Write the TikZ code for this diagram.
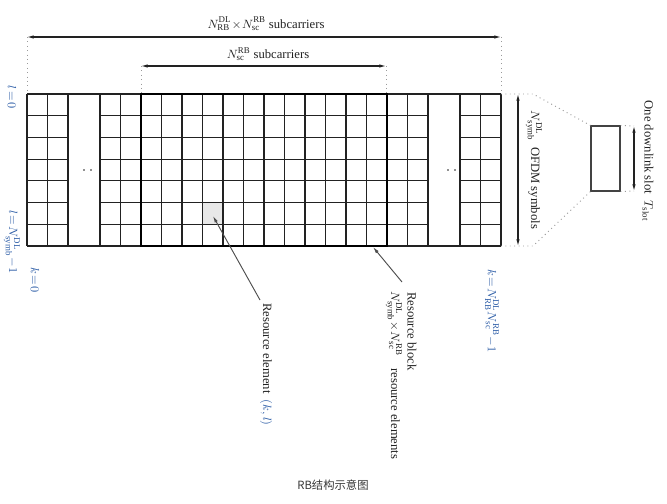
\documentclass[tikz,border=0pt]{standalone}
\usepackage{fontspec}
\setmainfont{Liberation Serif}
\setmathrm{Liberation Serif}
\newfontfamily\cjk{Noto Sans CJK SC}
\usetikzlibrary{arrows.meta}
\definecolor{ink}{HTML}{222222}
\definecolor{mblue}{HTML}{2F5FA8}
\definecolor{dotgray}{HTML}{9A9A9A}
\begin{document}
\begin{tikzpicture}[x=0.75pt,y=-0.75pt,
  gridline/.style={draw=ink,line width=0.8pt},
  rbbox/.style={draw=black,line width=2.2pt},
  guide/.style={draw=dotgray,line width=0.7pt,dash pattern=on 0.7pt off 2.6pt},
  dimarrow/.style={draw=ink,line width=0.8pt,{Latex[length=5pt,width=2.6pt]}-{Latex[length=5pt,width=2.6pt]}},
  pointer/.style={draw=ink!80,line width=0.7pt,-{Latex[length=5pt,width=2.6pt]}},
  lbl/.style={font=\fontsize{9.5}{11}\selectfont,text=ink,inner sep=0pt},
  rlbl/.style={lbl,rotate=-90},
]
\useasboundingbox (0,0) rectangle (667,503);
\fill[white] (0,0) rectangle (667,503);

% highlighted resource element
\fill[gray!18] (202.5,202.57) rectangle (223,224.29);

% grid horizontal lines
\foreach \i in {1,...,6}{
  \pgfmathsetmacro{\yy}{94+\i*152/7}
  \draw[gridline] (27,\yy) -- (68,\yy);
  \draw[gridline] (100,\yy) -- (428,\yy);
  \draw[gridline] (460,\yy) -- (501,\yy);
}
\draw[gridline] (27,94) -- (501,94);
\draw[gridline] (27,246) -- (501,246);
% grid vertical lines
\foreach \xx in {27,47.5,68,100,120.5,387,407.5,428,460,480.5,501}{
  \draw[gridline] (\xx,94) -- (\xx,246);
}
\foreach \k in {0,...,12}{
  \draw[gridline] ({141+\k*20.5},94) -- ({141+\k*20.5},246);
}
% resource block
\draw[rbbox] (141,94) rectangle (387,246);

% gap dots
\foreach \p in {(84,170),(91,170),(448,170),(455,170)}{
  \fill[ink] \p circle (0.7pt);
}

% top dimension arrows
\coordinate (oL) at (27,37);
\coordinate (oR) at (501,37);
\coordinate (iL) at (141,66);
\coordinate (iR) at (386,66);
\draw[guide] (oL) -- (27,94);
\draw[guide] (oR) -- (501,94);
\draw[guide] (iL) -- (141,94);
\draw[guide] (iR) -- (386,94);
\draw[dimarrow] (oL) -- (oR);
\draw[dimarrow] (iL) -- (iR);
\node[lbl] (outerlbl) at (266,24) {$N_{\mathrm{RB}}^{\mathrm{DL}}\!\times\! N_{\mathrm{sc}}^{\mathrm{RB}}$\ subcarriers};
\node[lbl] (innerlbl) at (268,54) {$N_{\mathrm{sc}}^{\mathrm{RB}}$ subcarriers};

% right: OFDM symbols arrow
\coordinate (sT) at (518,94);
\coordinate (sB) at (518,246);
\draw[dimarrow] (sT) -- (sB);
\node[rlbl] (ofdm) at (534,170) {$N_{\mathrm{symb}}^{\mathrm{DL}}$\ \ OFDM symbols};

% zoom-out dotted lines to slot
\node[draw=ink!85,line width=0.8pt,minimum width=29*0.75pt,minimum height=65*0.75pt,inner sep=0pt] (slot) at (605.5,158.5) {};
\draw[guide] (501,94) -- (533,94) -- (slot.north west);
\draw[guide] (501,246) -- (533,246) -- (slot.south west);
\coordinate (tT) at (634,126);
\coordinate (tB) at (634,191);
\draw[guide] (slot.north east) -- (tT);
\draw[guide] (slot.south east) -- (tB);
\draw[dimarrow] (tT) -- (tB);
\node[rlbl] (slotlbl) at (648,161) {One downlink slot\ \ $T_{\mathrm{slot}}$};

% left labels
\node[rlbl,text=mblue] (l0) at (12,97) {$l\!=\!0$};
\node[rlbl,text=mblue] (lN) at (12,242) {$l\!=\!N_{\mathrm{symb}}^{\mathrm{DL}}\!-\!1$};
\node[rlbl,text=mblue] (k0) at (35,280) {$k\!=\!0$};
\node[rlbl,text=mblue] (kN) at (492,311) {$k\!=\!N_{\mathrm{RB}}^{\mathrm{DL}}N_{\mathrm{sc}}^{\mathrm{RB}}\!-\!1$};

% resource element
\node[rlbl,anchor=west] (relbl) at (266,303) {Resource element\ \ \textcolor{mblue}{$(k,l)$}};
\coordinate (reTip) at (213,216);
\draw[pointer] (260,300) -- (reTip);

% resource block
\node[rlbl,anchor=west] (rblbl) at (412,292) {Resource block};
\node[rlbl,anchor=west] (rblbl2) at (394,291) {$N_{\mathrm{symb}}^{\mathrm{DL}}\!\times\! N_{\mathrm{sc}}^{\mathrm{RB}}$\quad resource elements};
\coordinate (rbTip) at (373,247);
\draw[pointer] (402,282) -- (rbTip);

% caption
\node[font=\cjk\fontsize{8.5}{10}\selectfont,text=ink!90,inner sep=0pt] (cap) at (333,485) {RB结构示意图};
\end{tikzpicture}
\end{document}
